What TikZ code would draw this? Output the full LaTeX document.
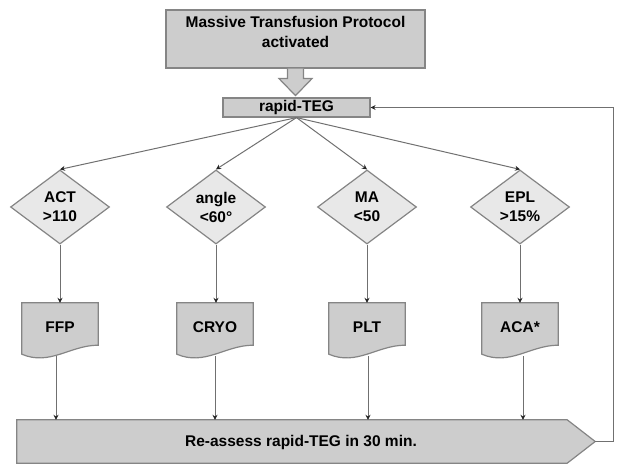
\documentclass[tikz,border=0pt]{standalone}
\usepackage{fontspec}
\setmainfont{Liberation Sans}
\usetikzlibrary{shapes.geometric,arrows.meta,calc,backgrounds}
\definecolor{boxfill}{HTML}{CDCDCD}
\definecolor{diafill}{HTML}{E8E8E8}
\definecolor{edgec}{HTML}{858585}
\definecolor{connc}{HTML}{707070}
\definecolor{tipc}{HTML}{252525}
\newcommand\mydocshape[1]{%
  \draw[docline] (#1.north west) -- (#1.north east) -- ([yshift=6pt]#1.south east)
    .. controls ([shift={(-28,-6)}]#1.south east) and ([shift={(28,15)}]#1.south west)
    .. ([shift={(0,3)}]#1.south west) -- cycle;}
\begin{document}
\begin{tikzpicture}[x=1pt,y=-1pt,
  font=\fontsize{15.5}{19}\selectfont\bfseries,
  box/.style={draw=edgec, fill=boxfill, line width=1.2pt, inner sep=0pt},
  dia/.style={diamond, draw=edgec, fill=diafill, line width=1.2pt,
    minimum width=99pt, minimum height=74pt, inner sep=0pt, align=center},
  docframe/.style={draw=none, minimum width=76pt, minimum height=48pt, inner sep=0pt},
  docline/.style={draw=edgec, fill=boxfill, line width=1.2pt},
  conn/.style={draw=connc, line width=1pt, -{Stealth[length=5pt,width=5pt,color=tipc]}}]
\useasboundingbox (0,0) rectangle (624,473);

% top box
\node[box, minimum width=259pt, minimum height=58pt] (mtp) at (295.5,39) {};
\node[align=center, font=\fontsize{15.5}{20}\selectfont\bfseries] (mtptext) at (295.5,32)
  {Massive Transfusion Protocol\\activated};
% block arrow
\draw[docline] ([xshift=-8pt]mtp.south) -- ++(0,10) -- ++(-8.5,0)
  -- ($(mtp.south)+(0,27)$) -- ++(16.5,-17) -- ++(-8.5,0) -- ++(0,-10);

% rapid-TEG
\node[box, minimum width=147pt, minimum height=19pt] (teg) at (296.5,107.5) {rapid-TEG};

% diamonds
\node[dia] (act) at (60,207) {ACT\\>110};
\node[dia] (ang) at (216,207) {angle\\<60°};
\node[dia] (ma) at (367,207) {MA\\<50};
\node[dia] (epl) at (520,207) {EPL\\>15\%};

% documents
\node[docframe] (ffp) at (60,327) {FFP};
\node[docframe] (cryo) at (215,327) {CRYO};
\node[docframe] (plt) at (367,327) {PLT};
\node[docframe] (aca) at (520,327) {ACA*};

% bottom box
\node[draw=none, minimum width=550pt, minimum height=43pt, inner sep=0pt] (re) at (292,441.5) {};
\coordinate (tip) at ([xshift=28pt]re.east);
\node (retext) at (301,442) {Re-assess rapid-TEG in 30 min.};

\begin{scope}[on background layer]
  \mydocshape{ffp}
  \mydocshape{cryo}
  \mydocshape{plt}
  \mydocshape{aca}
  \draw[docline] (re.north west) -- (re.north east) -- (tip) -- (re.south east) -- (re.south west) -- cycle;
\end{scope}

% connectors
\foreach \s in {act,ang,ma,epl} \draw[conn] (teg.south) -- (\s.north);
\draw[conn] (act.south) -- (act.south |- ffp.north);
\draw[conn] (ang.south) -- (ang.south |- cryo.north);
\draw[conn] (ma.south) -- (ma.south |- plt.north);
\draw[conn] (epl.south) -- (epl.south |- aca.north);

\coordinate (ffpb) at ([shift={(-4,5)}]ffp.south);
\coordinate (cryob) at ([shift={(0,5)}]cryo.south);
\coordinate (pltb) at ([shift={(1,5)}]plt.south);
\coordinate (acab) at ([shift={(3,5)}]aca.south);
\foreach \b in {ffpb,cryob,pltb,acab} \draw[conn] (\b) -- (\b |- re.north);

\draw[conn] (tip) -- ++(18,0) |- (teg.east);
\end{tikzpicture}
\end{document}
